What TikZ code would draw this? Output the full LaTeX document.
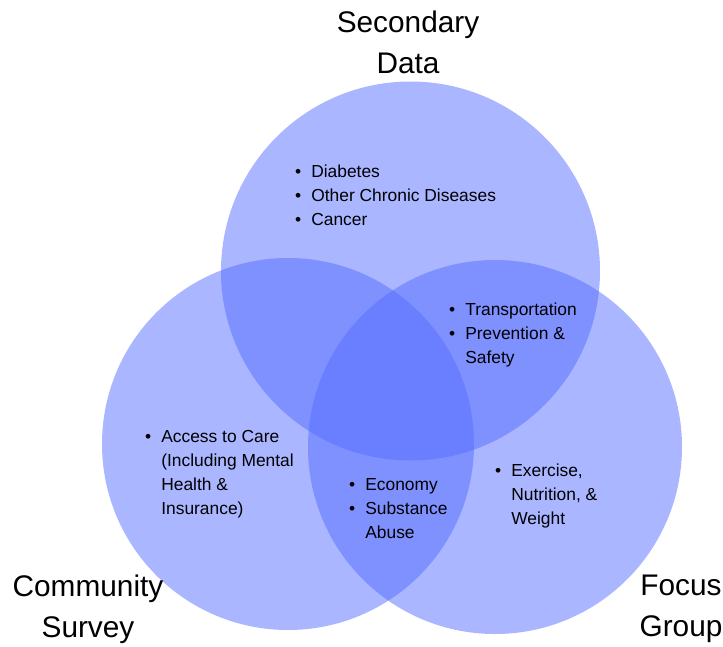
\documentclass[tikz,border=0pt]{standalone}
\usepackage{fontspec}
\setmainfont{Liberation Sans}
\usepackage{tikz}
\usetikzlibrary{positioning}

\definecolor{vennblue}{RGB}{85,109,255}

\begin{document}
\begin{tikzpicture}[
        x=1pt, y=-1pt,
        set_circle/.style={fill=vennblue, fill opacity=0.5, draw=none},
        set_title/.style={align=center, inner sep=0pt, font=\fontsize{29.8}{41}\selectfont},
        item_list/.style={anchor=base west, inner sep=0pt, font=\fontsize{17.4}{24}\selectfont}
    ]
    \useasboundingbox (0,0) rectangle (723,646);

    % ================= Circles =================
    \fill[set_circle] (410.5,271) circle[radius=189.5];
    \fill[set_circle] (288,444) circle[radius=186];
    \fill[set_circle] (495,447) circle[radius=187];

    % ================= Titles =================
    \node[set_title] (title_data) at (408,42) {Secondary\\Data};
    \node[set_title] (title_survey) at (88,609) {Community\\Survey};
    \node[set_title] (title_focus) at (681,609) {Focus\\Group};

    % ================= Items =================
    \node[item_list] (list_data) at (295,177) {\begin{tabular}[t]{@{}l@{\hspace{10pt}}l@{}}
        • & Diabetes\\
        • & Other Chronic Diseases\\
        • & Cancer
    \end{tabular}};

    \node[item_list] (list_data_focus) at (449,315) {\begin{tabular}[t]{@{}l@{\hspace{10pt}}l@{}}
        • & Transportation\\
        • & Prevention \&\\
          & Safety
    \end{tabular}};

    \node[item_list] (list_survey) at (145,442) {\begin{tabular}[t]{@{}l@{\hspace{10pt}}l@{}}
        • & Access to Care\\
          & (Including Mental\\
          & Health \&\\
          & Insurance)
    \end{tabular}};

    \node[item_list] (list_survey_focus) at (349,490) {\begin{tabular}[t]{@{}l@{\hspace{10pt}}l@{}}
        • & Economy\\
        • & Substance\\
          & Abuse
    \end{tabular}};

    \node[item_list] (list_focus) at (495,476) {\begin{tabular}[t]{@{}l@{\hspace{10pt}}l@{}}
        • & Exercise,\\
          & Nutrition, \&\\
          & Weight
    \end{tabular}};

\end{tikzpicture}
\end{document}
